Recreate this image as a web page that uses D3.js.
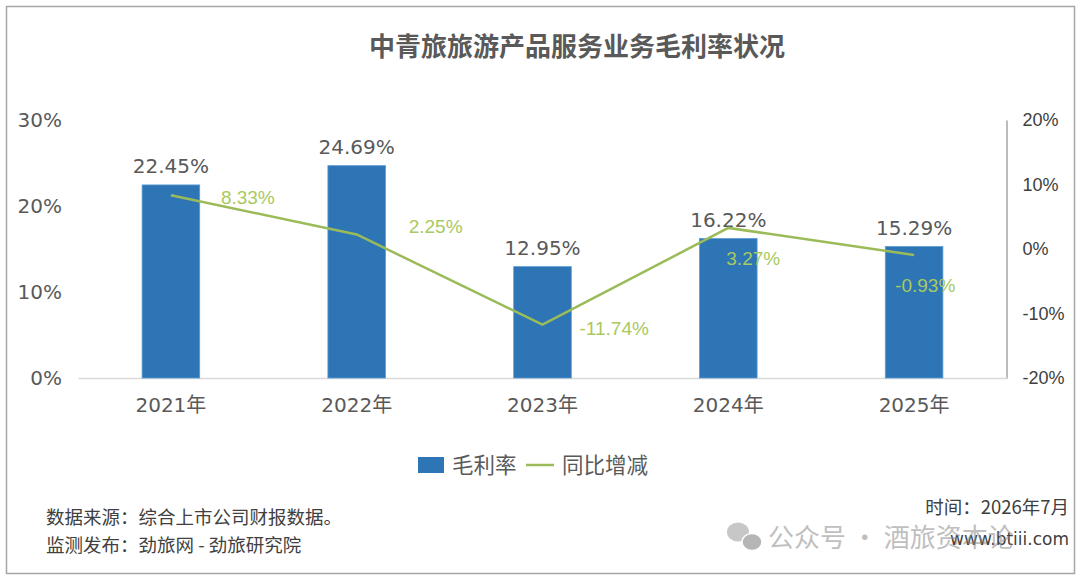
<!DOCTYPE html>
<html>
<head>
<meta charset="utf-8">
<script src="https://cdn.jsdelivr.net/npm/d3@7"></script>
<style>
  body { margin: 0; background: #fff; }
  svg { display: block; }
</style>
</head>
<body>
<div id="chart"></div>
<script>
const years = ["2021年", "2022年", "2023年", "2024年", "2025年"]
const grossMargin = [22.45, 24.69, 12.95, 16.22, 15.29]
const yoyChange = [8.33, 2.25, -11.74, 3.27, -0.93]
const leftTicks = [0, 10, 20, 30]
const rightTicks = [-20, -10, 0, 10, 20]

// hand placed label nudges for the green line (like the original)
const lineLabelOffsets = [[50, 2], [52, -8], [37, 3], [-2, 30], [-19, 30]]

const svgWidth = 1080
const svgHeight = 578

const plot = { left: 78, right: 1007, top: 120, bottom: 378 }

const svg = d3.select("#chart").append("svg")
    .attr("width", svgWidth)
    .attr("height", svgHeight)

const fontMain = "'DejaVu Sans', 'Noto Sans CJK SC', sans-serif"
const fontCjk = "'Noto Sans CJK SC', 'DejaVu Sans', sans-serif"
const fontNarrow = "'Liberation Sans Narrow', 'Liberation Sans', sans-serif"

// frame
svg.append("rect")
    .attr("x", 6.5).attr("y", 6.5)
    .attr("width", 1068).attr("height", 567)
    .attr("fill", "#fff")
    .attr("stroke", "#a6a6a6")
    .attr("stroke-width", 1.5)

svg.append("text")
    .attr("x", 577).attr("y", 56)
    .attr("text-anchor", "middle")
    .attr("font-family", fontCjk)
    .attr("font-weight", "bold")
    .attr("font-size", 26)
    .attr("fill", "#595959")
    .text("中青旅旅游产品服务业务毛利率状况")

const x = d3.scaleBand()
    .domain(years)
    .range([plot.left, plot.right])
    .paddingInner(0.69)
    .paddingOuter(0.345)

const yLeft = d3.scaleLinear().domain([0, 30]).range([plot.bottom, plot.top])
const yRight = d3.scaleLinear().domain([-20, 20]).range([plot.bottom, plot.top])

// left axis
const leftAxisG = svg.append("g")
    .attr("transform", `translate(${plot.left}, 0)`)
    .call(d3.axisLeft(yLeft).tickValues(leftTicks).tickSize(0).tickPadding(16).tickFormat(d => d + "%"))
leftAxisG.select(".domain").remove()
leftAxisG.selectAll("text")
    .attr("font-family", fontMain)
    .attr("font-size", 20)
    .attr("fill", "#595959")

// right axis
const rightAxisG = svg.append("g")
    .attr("transform", `translate(${plot.right - 0.5}, 0)`)
    .call(d3.axisRight(yRight).tickValues(rightTicks).tickSize(0).tickPadding(16).tickFormat(d => d + "%"))
rightAxisG.select(".domain").attr("stroke", "#a6a6a6").attr("stroke-width", 1.5)
rightAxisG.selectAll("text")
    .attr("font-family", "'Liberation Sans', sans-serif")
    .attr("font-size", 18)
    .attr("fill", "#404040")

// x axis
const xAxisG = svg.append("g")
    .attr("transform", `translate(0, ${plot.bottom})`)
    .call(d3.axisBottom(x).tickSize(0).tickPadding(20))
xAxisG.select(".domain").attr("stroke", "#d9d9d9").attr("stroke-width", 1.5)
xAxisG.selectAll("text")
    .attr("font-family", fontMain)
    .attr("font-size", 20)
    .attr("fill", "#595959")

// bars
svg.append("g").selectAll("rect")
    .data(grossMargin)
    .join("rect")
    .attr("x", (d, i) => x(years[i]))
    .attr("y", d => yLeft(d))
    .attr("width", x.bandwidth())
    .attr("height", d => plot.bottom - yLeft(d))
    .attr("fill", "#2e75b6")
    .attr("stroke", "#5b9bd5")
    .attr("stroke-width", 0.8)

svg.append("g").selectAll("text")
    .data(grossMargin)
    .join("text")
    .attr("x", (d, i) => x(years[i]) + x.bandwidth() / 2)
    .attr("y", d => yLeft(d) - 12)
    .attr("text-anchor", "middle")
    .attr("font-family", fontMain)
    .attr("font-size", 20)
    .attr("fill", "#595959")
    .text(d => d.toFixed(2) + "%")

// yoy line
const cx = i => x(years[i]) + x.bandwidth() / 2
const line = d3.line()
    .x((d, i) => cx(i))
    .y(d => yRight(d))

svg.append("path")
    .datum(yoyChange)
    .attr("d", line)
    .attr("fill", "none")
    .attr("stroke", "#9bbb59")
    .attr("stroke-width", 2.5)

svg.append("g").selectAll("text")
    .data(yoyChange)
    .join("text")
    .attr("x", (d, i) => cx(i) + lineLabelOffsets[i][0])
    .attr("y", (d, i) => yRight(d) + lineLabelOffsets[i][1])
    .attr("dy", "0.36em")
    .attr("font-family", fontNarrow)
    .attr("font-size", 19)
    .attr("fill", "#a9c961")
    .text(d => d.toFixed(2) + "%")

// legend
const legend = svg.append("g").attr("transform", "translate(418, 465)")
legend.append("rect")
    .attr("x", 0).attr("y", -8)
    .attr("width", 26).attr("height", 16)
    .attr("fill", "#2e75b6")
legend.append("text")
    .attr("x", 34).attr("y", 0).attr("dy", "0.36em")
    .attr("font-family", fontCjk).attr("font-size", 21.5).attr("fill", "#595959")
    .text("毛利率")
legend.append("line")
    .attr("x1", 108).attr("x2", 136)
    .attr("y1", 0).attr("y2", 0)
    .attr("stroke", "#9bbb59").attr("stroke-width", 2.5)
legend.append("text")
    .attr("x", 144).attr("y", 0).attr("dy", "0.36em")
    .attr("font-family", fontCjk).attr("font-size", 21.5).attr("fill", "#595959")
    .text("同比增减")

// footer notes
const footer = svg.append("g")
    .attr("font-family", fontCjk)
    .attr("font-size", 18.5)
    .attr("fill", "#404040")
footer.append("text").attr("x", 46).attr("y", 524).text("数据来源：综合上市公司财报数据。")
footer.append("text").attr("x", 46).attr("y", 552).text("监测发布：劲旅网 - 劲旅研究院")
footer.append("text").attr("x", 1069).attr("y", 514).attr("text-anchor", "end").text("时间：2026年7月")

// watermark
const wm = svg.append("g").attr("opacity", 0.55)
wm.append("ellipse").attr("cx", 738).attr("cy", 532).attr("rx", 11).attr("ry", 9.5).attr("fill", "#9a9a9a")
wm.append("ellipse").attr("cx", 752).attr("cy", 542).attr("rx", 10).attr("ry", 8.5).attr("fill", "#7a7a7a").attr("stroke", "#fff").attr("stroke-width", 1.5)
wm.append("text")
    .attr("x", 768).attr("y", 547)
    .attr("font-family", fontCjk).attr("font-size", 26).attr("fill", "#8c8c8c")
    .text("公众号 · 酒旅资本论")

footer.append("text").attr("x", 1069).attr("y", 545).attr("text-anchor", "end").attr("font-family", fontMain).attr("font-size", 17).text("www.btiii.com")
</script>
</body>
</html>
